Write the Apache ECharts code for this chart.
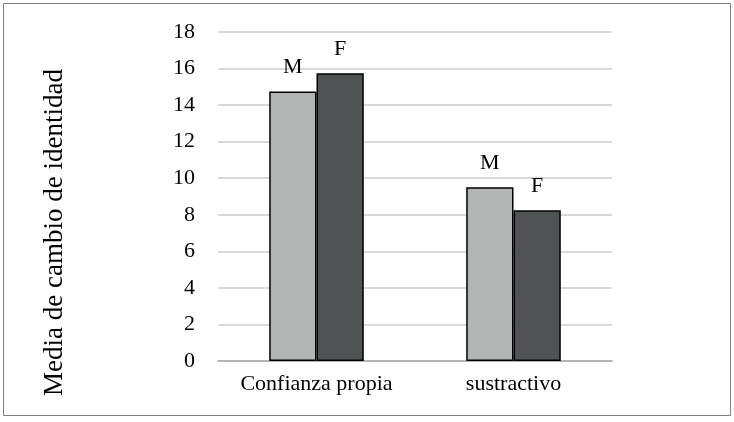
<!DOCTYPE html>
<html>
<head>
<meta charset="utf-8">
<script src="https://cdn.jsdelivr.net/npm/echarts@6/dist/echarts.min.js"></script>
<style>html,body{margin:0;padding:0;background:#fff;}#c{width:734px;height:422px;}</style>
</head>
<body>
<div id="c"></div>
<script>
const categories = ['Confianza propia', 'sustractivo'];
const seriesNames = ['M', 'F'];
const valuesM = [14.75, 9.5];
const valuesF = [15.75, 8.25];
const yTicks = [0, 2, 4, 6, 8, 10, 12, 14, 16, 18];

const chart = echarts.init(document.getElementById('c'), null, {renderer: 'canvas'});
const font = 'Liberation Serif';
function barSeries(name, data, color) {
  return {
    name: name, type: 'bar', data: data, barGap: '0%', barCategoryGap: '52%',
    itemStyle: {color: color, borderColor: '#000', borderWidth: 1.5},
    label: {show: true, position: 'top', distance: 13, formatter: name, fontFamily: font, fontSize: 22, color: '#000'}
  };
}
chart.setOption({
  animation: false,
  graphic: [{type: 'rect', shape: {x: 3.5, y: 3.5, width: 727, height: 412}, style: {fill: 'none', stroke: '#7f7f7f', lineWidth: 1}}],
  grid: {left: 218, right: 122, top: 32, bottom: 61},
  xAxis: {
    type: 'category', data: categories,
    axisLine: {lineStyle: {color: '#a6a6a6', width: 1.5}},
    axisTick: {show: false},
    axisLabel: {interval: 0, hideOverlap: false, fontFamily: font, fontSize: 22, color: '#000', margin: 12}
  },
  yAxis: {
    type: 'value', min: yTicks[0], max: yTicks[yTicks.length - 1], interval: 2,
    name: 'Media de cambio de identidad', nameLocation: 'middle', nameGap: 150,
    nameTextStyle: {fontFamily: font, fontSize: 27, color: '#000', padding: [0, 72, 0, 0]},
    axisLine: {show: false}, axisTick: {show: false},
    axisLabel: {fontFamily: font, fontSize: 22, color: '#000', margin: 23},
    splitLine: {lineStyle: {color: '#d9d9d9', width: 2}}
  },
  series: [barSeries(seriesNames[0], valuesM, '#b3b5b5'), barSeries(seriesNames[1], valuesF, '#4f5353')]
});
</script>
</body>
</html>
